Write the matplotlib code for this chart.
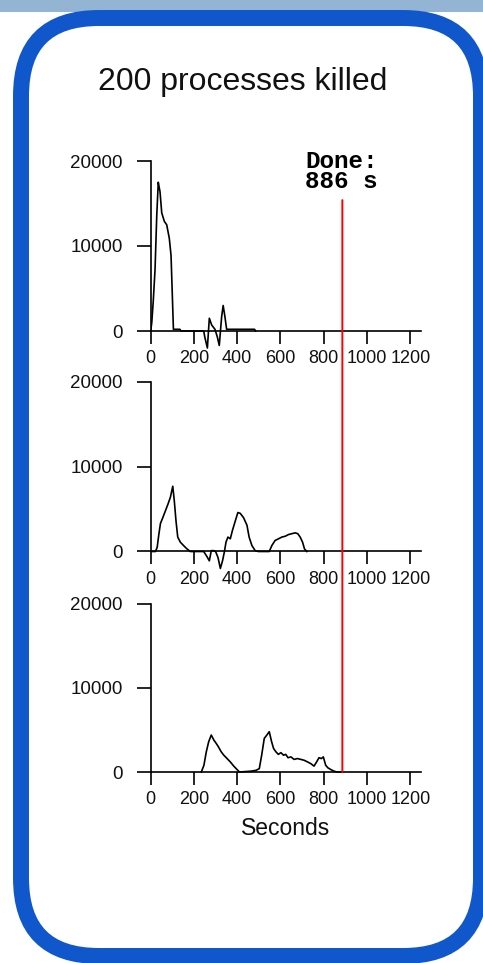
import numpy as np
import matplotlib
matplotlib.use("Agg")
import matplotlib.pyplot as plt
from matplotlib.patches import FancyBboxPatch, Rectangle, ConnectionPatch
from matplotlib.transforms import IdentityTransform

W, H = 483, 963

TITLE = "200 processes killed"
DONE_TIME = 886
X_LABEL = "Seconds"
X_TICKS = [0, 200, 400, 600, 800, 1000, 1200]
Y_TICKS = [0, 10000, 20000]

t1 = [0, 5, 12, 20, 28, 35, 40, 43, 51, 63, 74, 86, 94, 100, 105, 135, 140,
      245, 250, 262, 271, 282, 297, 308, 317, 328, 335, 343, 351, 480, 485]
v1 = [0, 1000, 3600, 7200, 13600, 17500, 16800, 16400, 13900, 12900, 12500, 10900,
      8900, 4200, 200, 200, 0, 0, -700, -2000, 1500, 700, 200, -700, -1700, 1700,
      3000, 1700, 200, 200, 0]

t2 = [0, 22, 30, 37, 45, 56, 68, 80, 91, 102, 109, 117, 125, 137, 152, 168, 183,
      245, 260, 271, 280, 291, 300, 311, 322, 332, 341, 348, 357, 368, 378, 391,
      403, 414, 429, 445, 455, 468, 483, 498, 548, 560, 575, 591, 606, 622, 637,
      652, 668, 680, 691, 702, 711, 722]
v2 = [0, 0, 500, 1900, 3300, 4000, 4800, 5600, 6400, 7700, 6000, 3600, 1700, 1100,
      700, 300, 0, 0, -600, -1100, 100, 100, 0, -700, -2000, -1100, 0, 1100, 1700,
      1500, 2500, 3600, 4600, 4500, 4000, 3100, 1700, 700, 100, 0, 0, 700, 1300,
      1500, 1700, 1800, 2000, 2100, 2200, 2100, 1700, 1100, 300, 0]

t3 = [234, 246, 257, 268, 280, 292, 303, 313, 326, 338, 353, 368, 384, 399, 410,
      464, 487, 502, 513, 525, 537, 548, 559, 568, 579, 590, 602, 614, 624, 635,
      648, 663, 678, 694, 709, 725, 740, 755, 767, 778, 789, 798, 809, 819, 832,
      847, 862, 886]
v3 = [0, 800, 2400, 3600, 4400, 3800, 3400, 3000, 2400, 2000, 1600, 1200, 700, 300,
      0, 100, 200, 400, 2000, 4000, 4400, 4800, 3600, 2800, 2400, 2100, 2300, 2000,
      2100, 1700, 1800, 1500, 1600, 1500, 1400, 1200, 1000, 700, 1200, 1700, 1600,
      1800, 800, 500, 300, 100, 0, 0]

SERIES = [(t1, v1), (t2, v2), (t3, v3)]

# pixel rows (from top) of value 0 and 20000 in each panel
PANEL_ROWS = [(331, 161), (551.5, 382), (772, 604)]
X0_PX, X1_PX = 150.7, 421.1  # x = 0 and x = 1250
YMIN, YMAX = -3000, 20500


def add_panel(fig, zero_px, top_px):
    scale = (zero_px - top_px) / 20000
    bot = zero_px - YMIN * scale
    top = top_px - (YMAX - 20000) * scale
    ax = fig.add_axes([X0_PX / W, 1 - bot / H, (X1_PX - X0_PX) / W, (bot - top) / H])
    ax.set_xlim(0, 1250)
    ax.set_ylim(YMIN, YMAX)
    ax.patch.set_alpha(0)
    for s in ["top", "right"]:
        ax.spines[s].set_visible(False)
    ax.spines["left"].set_bounds(0, 20000)
    ax.spines["bottom"].set_position(("data", 0))
    ax.spines["bottom"].set_bounds(0, 1250)
    for s in ["left", "bottom"]:
        ax.spines[s].set_linewidth(1.2)
    ax.set_xticks(X_TICKS)
    ax.set_xticklabels([str(x) for x in X_TICKS])
    ax.set_yticks(Y_TICKS)
    ax.set_yticklabels([str(y) for y in Y_TICKS])
    ax.tick_params(axis="y", length=10, width=1.2, pad=10, labelsize=13.5)
    ax.tick_params(axis="x", length=9, width=1.2, pad=5, labelsize=13)
    for lab in ax.get_xticklabels() + ax.get_yticklabels():
        lab.set_fontfamily("Liberation Sans")
        lab.set_color("#111111")
    return ax


def main():
    fig = plt.figure(figsize=(W / 100, H / 100), dpi=100)
    fig.patch.set_facecolor("white")

    # top strip and rounded frame
    fig.add_artist(Rectangle((0, H - 12), W, 12, transform=IdentityTransform(),
                             facecolor="#94b4d4", edgecolor="none", zorder=0))
    fig.add_artist(FancyBboxPatch((21, 7), 460, 938, boxstyle="round,pad=0,rounding_size=78",
                                  transform=IdentityTransform(), facecolor="white",
                                  edgecolor="#1157cc", linewidth=11.5, zorder=0))

    fig.text(242.5 / W, 1 - 82 / H, TITLE, ha="center", va="center",
             fontsize=23, family="Liberation Sans", color="#111111")

    axes = []
    for (zero_px, top_px), (t, v) in zip(PANEL_ROWS, SERIES):
        ax = add_panel(fig, zero_px, top_px)
        ax.plot(t, v, color="black", lw=1.2, zorder=3)
        axes.append(ax)

    axes[-1].set_xlabel(X_LABEL, fontsize=16.5, family="Liberation Sans",
                        color="#111111", labelpad=6)

    line = ConnectionPatch(xyA=(DONE_TIME, 15400), coordsA=axes[0].transData,
                           xyB=(DONE_TIME, 0), coordsB=axes[-1].transData,
                           color="red", lw=1.4, zorder=5)
    fig.add_artist(line)

    fig.text(305 / W, 1 - 150 / H, "Done:\n%d s" % DONE_TIME, ha="left", va="top",
             fontsize=17.5, family="Liberation Mono", weight="bold",
             linespacing=0.85, color="black")

    fig.savefig("out.png", dpi=100)


if __name__ == "__main__":
    main()
